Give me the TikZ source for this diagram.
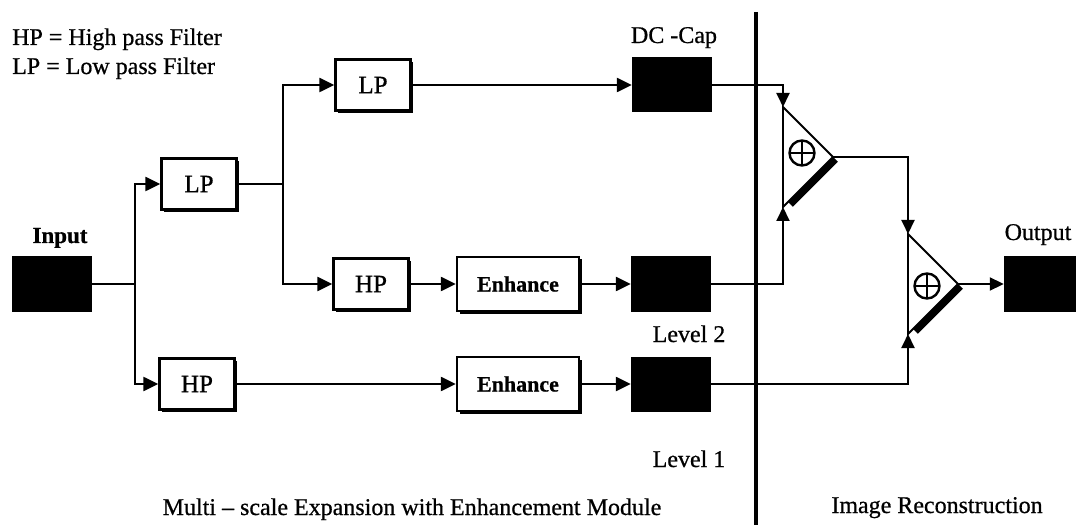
\documentclass[tikz,border=0pt]{standalone}
\usepackage{fontspec}
\setmainfont{Liberation Serif}[UprightFeatures={FakeBold=0.7},BoldFeatures={FakeBold=0.7}]
\usetikzlibrary{arrows.meta,shadows,calc}
\begin{document}
\begin{tikzpicture}[x=1pt,y=-1pt,
  txt/.style={font=\fontsize{24}{28}\selectfont, inner sep=0pt},
  filt/.style={draw, line width=2.4pt, fill=white, minimum width=75pt, minimum height=51pt, inner sep=0pt,
    font=\fontsize{25}{29}\selectfont,
    drop shadow={shadow xshift=2.5pt, shadow yshift=-2.5pt, fill=black, opacity=1}},
  enh/.style={filt, minimum width=122pt, minimum height=54pt, font=\fontsize{22}{26}\selectfont\bfseries},
  blk/.style={fill=black, minimum width=80pt, minimum height=55pt, inner sep=0pt},
  wire/.style={line width=2.4pt},
  arr/.style={wire, -{Triangle[length=15pt,width=14pt]}},
  rwire/.style={line width=1.9pt},
  rarr/.style={rwire, -{Triangle[length=14pt,width=13pt]}},
  sumsym/.style={circle, draw, line width=2.4pt, minimum size=25pt, inner sep=0pt,
    path picture={\draw[line width=2.4pt] (path picture bounding box.north) -- (path picture bounding box.south)
      (path picture bounding box.west) -- (path picture bounding box.east);}},
  stripe/.style={line width=6.5pt},
  divider/.style={line width=4.5pt},
]
\useasboundingbox (0,0) rectangle (1076,529);

% legend
\node[txt, anchor=base west] (leg1) at (12,45) {HP = High pass Filter};
\node[txt, anchor=base west] (leg2) at (12,74) {LP = Low pass Filter};

% boxes
\node[blk] (inp) at (52,284) {};
\node[txt, font=\fontsize{23}{27}\selectfont\bfseries, anchor=base] (inlab) at (60,243) {Input};
\node[filt] (lp1) at (199,184) {LP};
\node[filt] (lp2) at (373,85) {LP};
\node[filt] (hp2) at (371,284) {HP};
\node[filt] (hp1) at (197,384) {HP};
\node[enh] (enh2) at (518,284) {Enhance};
\node[enh] (enh1) at (518,384) {Enhance};
\node[blk] (dc) at (672,85) {};
\node[blk] (l2) at (671,284) {};
\node[blk] (l1) at (671,384) {};
\node[blk, minimum width=72pt] (outb) at (1040,284) {};

% labels
\node[txt, anchor=base] (dclab) at (674,43) {DC -Cap};
\node[txt, anchor=base] (lev2) at (689,342) {Level 2};
\node[txt, anchor=base] (lev1) at (689,467) {Level 1};
\node[txt, anchor=base] (outlab) at (1038,240) {Output};
\node[txt, anchor=base] (mslab) at (412,515) {Multi – scale Expansion with Enhancement Module};
\node[txt, anchor=base] (irlab) at (937,513) {Image Reconstruction};

% junctions
\coordinate (j1) at (135,284);
\coordinate (j2) at (283,184);

% left wires
\draw[wire] (inp.east) -- (j1);
\draw[arr] (j1) |- (lp1.west);
\draw[arr] (j1) |- (hp1.west);
\draw[wire] (lp1.east) -- (j2);
\draw[arr] (j2) |- (lp2.west);
\draw[arr] (j2) |- (hp2.west);
\draw[arr] (lp2.east) -- (dc.west);
\draw[arr] (hp2.east) -- (enh2.west);
\draw[arr] (enh2.east) -- (l2.west);
\draw[arr] (hp1.east) -- (enh1.west);
\draw[arr] (enh1.east) -- (l1.west);

% divider
\coordinate (dvt) at (756,12);
\coordinate (dvb) at (756,525);
\draw[divider] (dvt) -- (dvb);

% summing triangles
\coordinate (s1t) at (783,107);
\coordinate (s1b) at (783,207);
\coordinate (s1a) at (833,157);
\draw[rwire, line join=miter] (s1t) -- (s1a) -- (s1b) -- cycle;
\draw[stripe] ($(s1a)+(2.5,2.5)$) -- ($(s1b)+(7.5,-2.5)$);
\node[sumsym] (p1) at (802,153) {};

\coordinate (s2t) at (908,234);
\coordinate (s2b) at (908,334);
\coordinate (s2a) at (958,284);
\draw[rwire, line join=miter] (s2t) -- (s2a) -- (s2b) -- cycle;
\draw[stripe] ($(s2a)+(2.5,2.5)$) -- ($(s2b)+(7.5,-2.5)$);
\node[sumsym] (p2) at (927,286) {};

% right wires
\draw[rarr] (dc.east) -| (s1t);
\draw[rarr] (l2.east) -| (s1b);
\draw[rarr] (s1a) -| (s2t);
\draw[rarr] (l1.east) -| (s2b);
\draw[rarr] (s2a) -- (outb.west);
\end{tikzpicture}
\end{document}
